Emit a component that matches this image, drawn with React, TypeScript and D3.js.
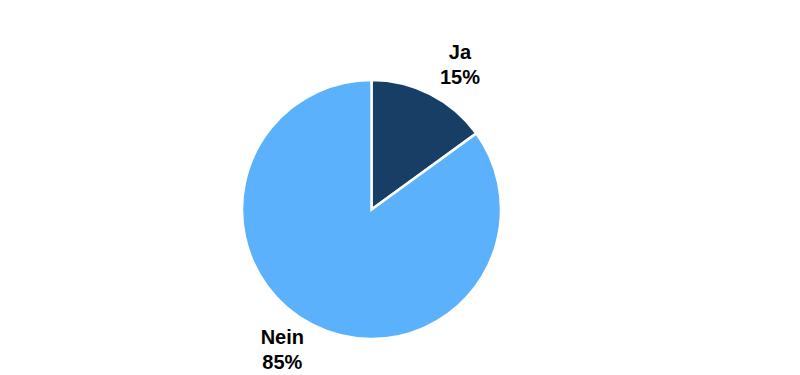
import React from "react";
import * as d3 from "d3";

const categories = ["Ja", "Nein"];
const values = [15, 85];
const labels = ["15%", "85%"];
const colors = ["#173F66", "#5BB1FB"];

const W = 800;
const H = 375;
const cx = 371.5;
const cy = 209.5;
const r = 129.5;
const fontSize = 20;
const lineGap = 25;

export default function App() {
  const pie = d3.pie<number>().sort(null).value((d) => d)(values);
  const arc = d3.arc<d3.PieArcDatum<number>>().innerRadius(0).outerRadius(r);
  return (
    <svg width={W} height={H} style={{ position: "absolute", left: 0, top: 0 }}>
      <rect width={W} height={H} fill="#fff" />
      <g transform={`translate(${cx},${cy})`}>
        {pie.map((p, i) => (
          <path key={i} d={arc(p) || ""} fill={colors[i]} stroke="#fff" strokeWidth={2.5} strokeLinejoin="miter" />
        ))}
        {pie.map((p, i) => {
          const mid = (p.startAngle + p.endAngle) / 2;
          const sx = Math.sin(mid);
          const sy = -Math.cos(mid);
          const R = sy < 0 ? r * 1.08 : r * 0.99;
          const ax = sx * R;
          const ay = sy * R;
          const boxW = 42;
          const boxH = lineGap * 2;
          const tx = ax + (sx >= 0 ? boxW / 2 + 4 : -boxW / 2 - 10);
          const top = sy < 0 ? ay - boxH + 5 : ay + 1;
          return (
            <text
              key={"l" + i}
              x={tx}
              textAnchor="middle"
              fontFamily="Liberation Sans, Arial, sans-serif"
              fontWeight="bold"
              fontSize={fontSize}
              fill="#000"
            >
              <tspan x={tx} y={top + 19}>{categories[i]}</tspan>
              <tspan x={tx} y={top + 19 + lineGap}>{labels[i]}</tspan>
            </text>
          );
        })}
      </g>
    </svg>
  );
}
